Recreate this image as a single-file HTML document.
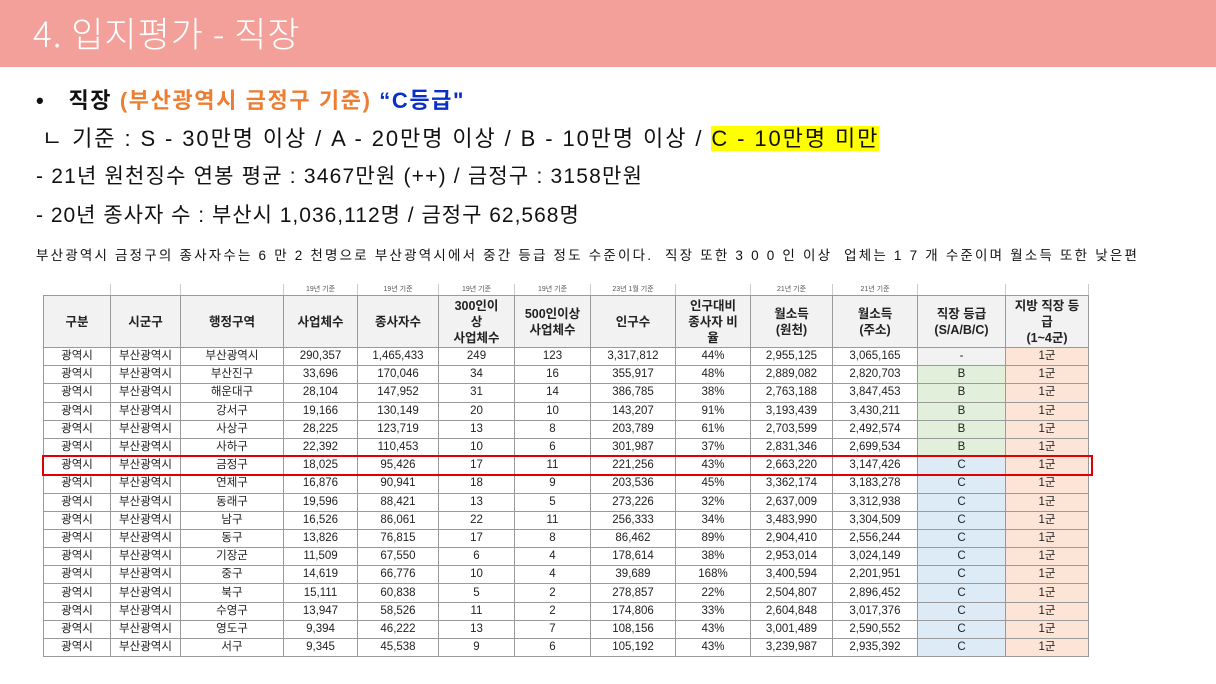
<!DOCTYPE html>
<html><head><meta charset="utf-8">
<style>
body{margin:0;width:1216px;height:684px;overflow:hidden;background:#fff;font-family:"Liberation Sans","Noto Sans CJK KR",sans-serif;position:relative}
.bar{position:absolute;left:0;top:0;width:1216px;height:67px;background:#f4a09a}
.title{position:absolute;left:33px;top:9px;font-size:35px;letter-spacing:1px;color:#fff;font-weight:300;font-family:"Noto Sans CJK KR",sans-serif;line-height:48px}
.ln{position:absolute;left:36px;white-space:nowrap;color:#111;font-family:"Liberation Sans","Noto Sans CJK KR",sans-serif}
table{position:absolute;left:43px;top:284px;border-collapse:collapse;table-layout:fixed;font-family:"Liberation Sans","Noto Sans CJK KR",sans-serif}
td{border:1px solid #9a9a9a;text-align:center;font-size:11.5px;line-height:13px;color:#222;padding:0;height:17.2px;overflow:hidden;white-space:nowrap}
tr.lab td{height:11px;font-size:7px;line-height:8px;color:#555;border-top:none;border-left:none;border-right:1px solid #ccc;border-bottom:1px solid #9a9a9a}
tr.hd td{height:51px;background:#f2f2f2;font-weight:bold;font-size:12.5px;white-space:normal;line-height:16px;position:relative}
.g{background:#e2efda}.c{background:#ddebf7}.p{background:#fce4d6}.n{background:#f2f2f2}
.box{position:absolute;left:42px;top:455px;width:1047px;height:17px;border:2px solid #e00000}
</style></head><body>
<div class="bar"></div>
<div class="title">4. 입지평가 - 직장</div>
<div class="ln" style="top:83px;font-size:22px;letter-spacing:1.6px;font-weight:bold">•&nbsp;&nbsp; 직장 <span style="color:#ed7d31">(부산광역시 금정구 기준)</span> <span style="color:#0a2ec8">“C등급"</span></div>
<div class="ln" style="top:121px;font-size:22px;letter-spacing:1.9px;left:42px">ㄴ 기준 : S - 30만명 이상 / A - 20만명 이상 / B - 10만명 이상 / <span style="background:#ffff00">C - 10만명 미만</span></div>
<div class="ln" style="top:160px;font-size:21px;letter-spacing:1.2px">- 21년 원천징수 연봉 평균 : 3467만원 (++) / 금정구 : 3158만원</div>
<div class="ln" style="top:199px;font-size:21px;letter-spacing:1px">- 20년 종사자 수 : 부산시 1,036,112명 / 금정구 62,568명</div>
<div class="ln" style="top:244px;font-size:13.5px;letter-spacing:2.2px">부산광역시 금정구의 종사자수는 6 만 2 천명으로 부산광역시에서 중간 등급 정도 수준이다.&nbsp; 직장 또한 3 0 0 인 이상&nbsp; 업체는 1 7 개 수준이며 월소득 또한 낮은편</div>
<table id="t">
<colgroup><col style="width:67px"><col style="width:70px"><col style="width:103px"><col style="width:74px"><col style="width:81px"><col style="width:76px"><col style="width:76px"><col style="width:85px"><col style="width:75px"><col style="width:82px"><col style="width:85px"><col style="width:88px"><col style="width:83px"></colgroup>
<tr class="lab"><td></td><td></td><td></td><td>19년 기준</td><td>19년 기준</td><td>19년 기준</td><td>19년 기준</td><td>23년 1월 기준</td><td></td><td>21년 기준</td><td>21년 기준</td><td></td><td></td></tr>
<tr class="hd"><td>구분</td><td>시군구</td><td>행정구역</td><td>사업체수</td><td>종사자수</td><td>300인이<br>상<br>사업체수</td><td>500인이상<br>사업체수</td><td>인구수</td><td>인구대비<br>종사자 비<br>율</td><td>월소득<br>(원천)</td><td>월소득<br>(주소)</td><td>직장 등급<br>(S/A/B/C)</td><td>지방 직장 등<br>급<br>(1~4군)</td></tr>
</table>
<div class="box"></div>
<script>
const districts=["부산광역시","부산진구","해운대구","강서구","사상구","사하구","금정구","연제구","동래구","남구","동구","기장군","중구","북구","수영구","영도구","서구"];
const firms=["290,357","33,696","28,104","19,166","28,225","22,392","18,025","16,876","19,596","16,526","13,826","11,509","14,619","15,111","13,947","9,394","9,345"];
const workers=["1,465,433","170,046","147,952","130,149","123,719","110,453","95,426","90,941","88,421","86,061","76,815","67,550","66,776","60,838","58,526","46,222","45,538"];
const f300=["249","34","31","20","13","10","17","18","13","22","17","6","10","5","11","13","9"];
const f500=["123","16","14","10","8","6","11","9","5","11","8","4","4","2","2","7","6"];
const pop=["3,317,812","355,917","386,785","143,207","203,789","301,987","221,256","203,536","273,226","256,333","86,462","178,614","39,689","278,857","174,806","108,156","105,192"];
const ratio=["44%","48%","38%","91%","61%","37%","43%","45%","32%","34%","89%","38%","168%","22%","33%","43%","43%"];
const incW=["2,955,125","2,889,082","2,763,188","3,193,439","2,703,599","2,831,346","2,663,220","3,362,174","2,637,009","3,483,990","2,904,410","2,953,014","3,400,594","2,504,807","2,604,848","3,001,489","3,239,987"];
const incA=["3,065,165","2,820,703","3,847,453","3,430,211","2,492,574","2,699,534","3,147,426","3,183,278","3,312,938","3,304,509","2,556,244","3,024,149","2,201,951","2,896,452","3,017,376","2,590,552","2,935,392"];
const grade=["-","B","B","B","B","B","C","C","C","C","C","C","C","C","C","C","C"];
const t=document.getElementById('t');
districts.forEach((d,i)=>{
  const tr=document.createElement('tr');
  
  
  const vals=["광역시","부산광역시",d,firms[i],workers[i],f300[i],f500[i],pop[i],ratio[i],incW[i],incA[i],grade[i],"1군"];
  vals.forEach((v,j)=>{
    const td=document.createElement('td');
    
    
    td.textContent=v;
    if(j==11) td.className=v=="B"?"g":v=="C"?"c":"n";
    if(j==12) td.className="p";
    tr.appendChild(td);
  });
  t.appendChild(tr);
});
</script>
</body></html>
